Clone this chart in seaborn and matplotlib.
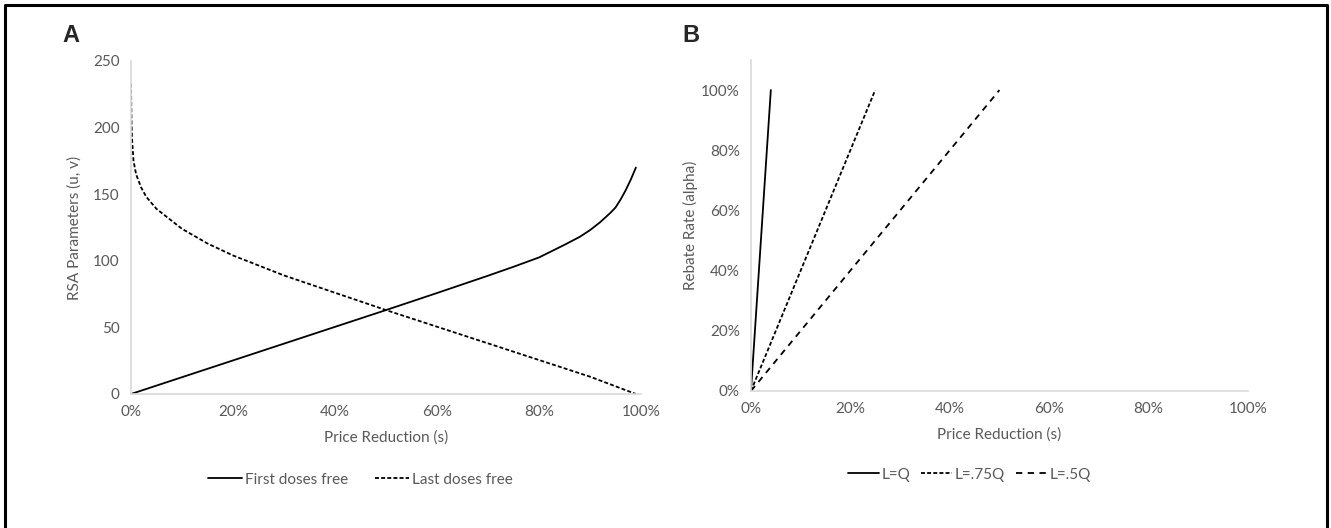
import matplotlib
matplotlib.use('Agg')
import matplotlib.pyplot as plt
from matplotlib.lines import Line2D
from matplotlib.ticker import PercentFormatter
import seaborn as sns
import pandas as pd

# Painel A - parametros RSA
s_first = [0, .1, .2, .3, .4, .5, .6, .7, .75, .8, .85, .88, .9, .92, .94, .95, .96, .97, .98, .99]
u_first = [0, 12.6, 25.2, 37.8, 50.4, 63, 75.8, 88.8, 95.5, 102.5, 112, 118, 123, 129, 136, 140, 146, 153, 161, 170]
s_last = [0, .001, .002, .005, .01, .02, .03, .05, .08, .1, .15, .2, .3, .4, .5, .6, .7, .8, .9, .99]
v_last = [233, 205, 192, 175, 165, 155, 148, 139, 130, 124, 113, 104, 89, 76, 63, 50.5, 38, 25.5, 13, 0]

# Painel B - taxa de rebate
s_lq = [0, 0.04]
s_l75 = [0, 0.25]
s_l50 = [0, 0.50]
alpha_b = [0, 1.0]

sns.set_style('white')
plt.rcParams['font.family'] = ['Lato', 'DejaVu Sans']
cinza = '#595959'
eixo = '#d9d9d9'

fig = plt.figure(figsize=(13.31, 5.28), dpi=100)
axA = fig.add_axes([0.0984, 0.2538, 0.3832, 0.6307])
axB = fig.add_axes([0.5642, 0.2595, 0.3734, 0.6269])

dfA1 = pd.DataFrame({'s': s_first, 'y': u_first})
dfA2 = pd.DataFrame({'s': s_last, 'y': v_last})
sns.lineplot(data=dfA1, x='s', y='y', ax=axA, color='black', lw=1.3, label='First doses free')
sns.lineplot(data=dfA2, x='s', y='y', ax=axA, color='black', lw=1.3,
             linestyle=(0, (2.2, 1.2)), label='Last doses free')
axA.set_xlim(0, 1)
axA.set_ylim(0, 250)
axA.set_yticks(range(0, 251, 50))
axA.set_xticks([0, .2, .4, .6, .8, 1.0])
axA.set_ylabel('RSA Parameters (u, v)', color=cinza, fontsize=11, labelpad=8)

dfB1 = pd.DataFrame({'s': s_lq, 'y': alpha_b})
dfB2 = pd.DataFrame({'s': s_l75, 'y': alpha_b})
dfB3 = pd.DataFrame({'s': s_l50, 'y': alpha_b})
sns.lineplot(data=dfB1, x='s', y='y', ax=axB, color='black', lw=1.3, label='L=Q')
sns.lineplot(data=dfB2, x='s', y='y', ax=axB, color='black', lw=1.3,
             linestyle=(0, (2.2, 1.2)), label='L=.75Q')
sns.lineplot(data=dfB3, x='s', y='y', ax=axB, color='black', lw=1.3,
             linestyle=(0, (3.5, 3)), label='L=.5Q')
axB.set_xlim(0, 1)
axB.set_ylim(0, 1.1)
axB.set_yticks([0, .2, .4, .6, .8, 1.0])
axB.set_xticks([0, .2, .4, .6, .8, 1.0])
axB.yaxis.set_major_formatter(PercentFormatter(1.0, decimals=0))
axB.set_ylabel('Rebate Rate (alpha)', color=cinza, fontsize=11, labelpad=2)

for ax in (axA, axB):
    ax.xaxis.set_major_formatter(PercentFormatter(1.0, decimals=0))
    ax.set_xlabel('Price Reduction (s)', color=cinza, fontsize=11, labelpad=8)
    ax.tick_params(colors=cinza, labelsize=11, length=0, pad=8)
    for lado in ['top', 'right']:
        ax.spines[lado].set_visible(False)
    for lado in ['left', 'bottom']:
        ax.spines[lado].set_color(eixo)
        ax.spines[lado].set_linewidth(1.2)
    ax.grid(False)

axA.legend(loc='upper center', bbox_to_anchor=(0.45, -0.195), ncol=2, frameon=False,
           fontsize=11, labelcolor=cinza, handlelength=2.2, handletextpad=0.2, columnspacing=1.8)
axB.legend(loc='upper center', bbox_to_anchor=(0.44, -0.19), ncol=3, frameon=False,
           fontsize=11, labelcolor=cinza, handlelength=2.0, handletextpad=0.2, columnspacing=0.7)

fig.text(62 / 1331, 1 - 35 / 528, 'A', fontsize=17, fontweight='bold', family='Liberation Sans', va='center')
fig.text(682 / 1331, 1 - 35 / 528, 'B', fontsize=17, fontweight='bold', family='Liberation Sans', va='center')

# moldura (sem a borda de baixo)
fig.add_artist(Line2D([0.0038, 0.0038, 0.997, 0.997], [0, 0.9905, 0.9905, 0], color='black', lw=2.2,
                      transform=fig.transFigure))

plt.savefig('out.png', dpi=100)
